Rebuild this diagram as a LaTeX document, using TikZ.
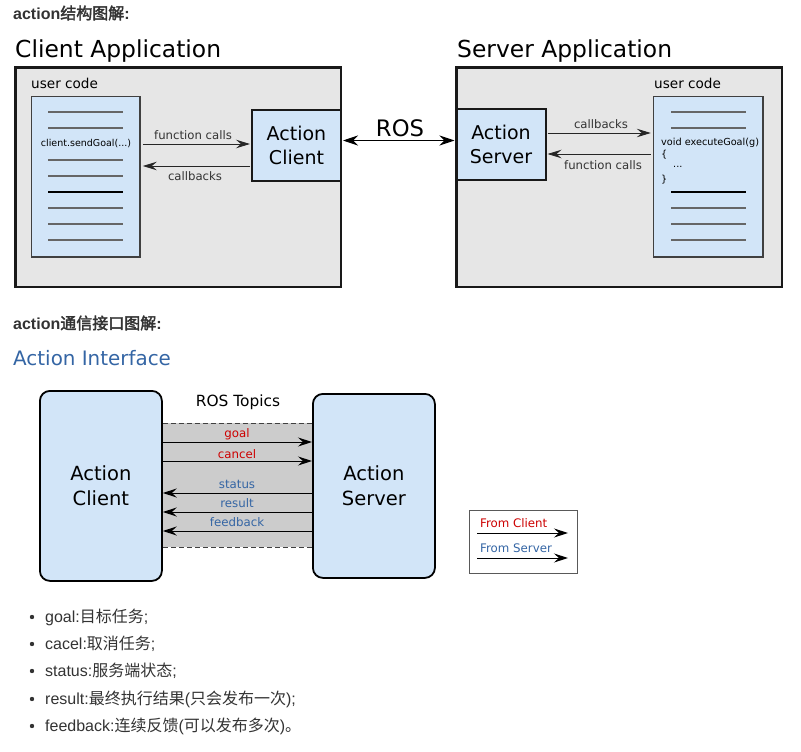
\documentclass[tikz,border=0pt]{standalone}
\usepackage{fontspec}
\setmainfont{DejaVu Sans}
\newfontfamily\lib{Liberation Sans}
\newfontfamily\cjk{Noto Sans CJK SC}
\newfontfamily\cjkb[FakeBold=2.4]{Noto Sans CJK SC}
\usetikzlibrary{arrows.meta}
\definecolor{boxblue}{HTML}{D2E5F8}
\definecolor{appgray}{HTML}{E6E6E6}
\definecolor{bandgray}{HTML}{CCCCCC}
\definecolor{ired}{HTML}{CC0000}
\definecolor{iblue}{HTML}{3465A4}
\definecolor{txt}{HTML}{333333}
\newcommand{\fs}[1]{\fontsize{#1}{#1}\selectfont}
\newcommand{\fsb}[2]{\fontsize{#1}{#2}\selectfont}
\begin{document}
\begin{tikzpicture}[x=1pt,y=-1pt,
  arr/.style={-{Stealth[length=14pt,width=8.5pt,inset=5pt]}, line width=0.9pt, draw=black!85},
  biarr/.style={{Stealth[length=15pt,width=10pt,inset=5pt]}-{Stealth[length=15pt,width=10pt,inset=5pt]}, line width=1.1pt, draw=black},
  iarr/.style={-{Stealth[length=14pt,width=9pt,inset=5pt]}, line width=1pt, draw=black},
  app/.style={draw=black!90, line width=2.6pt, fill=appgray, inner sep=0, anchor=north west},
  codebox/.style={draw=black!75, line width=1.6pt, fill=boxblue, inner sep=0, anchor=north west},
  acbox/.style={draw=black!90, line width=2pt, fill=boxblue, inner sep=0, anchor=north west, align=center, font=\fsb{19}{24}},
  ifbox/.style={draw=black, line width=1.8pt, fill=boxblue, rounded corners=10pt, inner sep=0, anchor=north west, align=center, font=\fsb{19.5}{25}},
  cl/.style={line width=1.1pt, draw=black!60},
  lbl/.style={font=\fs{11.7}, inner sep=0, text=black!80},
  ilbl/.style={font=\fs{11.8}, inner sep=0},
  title/.style={font=\fs{23.4}, inner sep=0, anchor=west},
  head/.style={inner sep=0, anchor=west, text=txt},
  bul/.style={inner sep=0, anchor=west, text=txt}
]
\useasboundingbox (0,0) rectangle (801,752);

% ---------- heading 1
\node[head] (h1) at (13,13) {\fs{16}{\lib\bfseries action}{\cjkb 结构图解}{\lib\bfseries :}};

% ---------- client application
\node[title] (ctitle) at (15,51.5) {Client Application};
\node[app, minimum width=325.4pt, minimum height=219.4pt] (capp) at (14.3,66.3) {};
\node[inner sep=0, anchor=west, font=\fs{13.6}] (cuc) at (31,83.5) {user code};
\node[codebox, minimum width=108.4pt, minimum height=160.4pt] (cucode) at (30.8,95.8) {};
\foreach \yy in {112,128,160,176,208,224,240} \draw[cl] (48,\yy) -- (123,\yy);
\draw[cl, draw=black] (48,192) -- (123,192);
\node[inner sep=0, font=\fs{9.5}] (sendgoal) at (86,144) {client.sendGoal(...)};
\node[acbox, minimum width=89pt, minimum height=71pt] (aclient) at (251,109) {Action\\Client};
\draw[arr, shorten <=2pt, shorten >=1pt] (cucode.east |- 0,144) -- (aclient.west |- 0,144);
\draw[arr, shorten <=1pt, shorten >=2pt] (aclient.west |- 0,166) -- (cucode.east |- 0,166);
\node[lbl] (fc1) at (193,135) {function calls};
\node[lbl] (cb1) at (195,176) {callbacks};

% ---------- server application
\node[title] (stitle) at (457,51.5) {Server Application};
\node[app, minimum width=325.4pt, minimum height=219.4pt] (sapp) at (455.3,66.3) {};
\node[acbox, minimum width=89pt, minimum height=71pt] (aserver) at (455.5,108) {Action\\Server};
\node[inner sep=0, anchor=west, font=\fs{13.6}] (suc) at (654,83.5) {user code};
\node[codebox, minimum width=109.4pt, minimum height=160.4pt] (sucode) at (652.8,95.8) {};
\foreach \yy in {112,128,208,224,240} \draw[cl] (671,\yy) -- (746,\yy);
\draw[cl, draw=black] (671,192) -- (746,192);
\node[inner sep=0, anchor=west, font=\fs{9.7}] (eg) at (661,143) {void executeGoal(g)};
\node[inner sep=0, anchor=west, font=\fs{9.7}] (ob) at (661,155) {\{};
\node[inner sep=0, anchor=west, font=\fs{9.7}] (dots) at (673,167) {...};
\node[inner sep=0, anchor=west, font=\fs{9.7}] (cb) at (661,180) {\}};
\draw[arr, shorten <=1pt, shorten >=2pt] (aserver.east |- 0,133) -- (sucode.west |- 0,133);
\draw[arr, shorten <=2pt, shorten >=1pt] (sucode.west |- 0,154) -- (aserver.east |- 0,154);
\node[lbl] (cb2) at (601,124) {callbacks};
\node[lbl] (fc2) at (603,165) {function calls};

% ---------- ROS
\draw[biarr, shorten <=1pt, shorten >=1pt] (aclient.east |- 0,140.5) -- (aserver.west |- 0,140.5);
\node[inner sep=0, font=\fs{22.7}] (ros) at (400,128.5) {ROS};

% ---------- heading 2
\node[head] (h2) at (13,323) {\fs{16}{\lib\bfseries action}{\cjkb 通信接口图解}{\lib\bfseries :}};
\node[inner sep=0, anchor=west, font=\fs{19.9}, text=iblue] (ai) at (13,358) {Action Interface};

% ---------- interface
\node[ifbox, minimum width=122pt, minimum height=190pt] (iclient) at (39,390) {Action\\Client};
\node[ifbox, minimum width=122pt, minimum height=184pt] (iserver) at (312,393) {Action\\Server};
\fill[bandgray] (iclient.east |- 0,423) rectangle (iserver.west |- 0,547);
\draw[line width=0.9pt, draw=black!75, dash pattern=on 5pt off 3pt] (iclient.east |- 0,423) -- (iserver.west |- 0,423);
\draw[line width=0.9pt, draw=black!75, dash pattern=on 5pt off 3pt] (iclient.east |- 0,547) -- (iserver.west |- 0,547);
\node[inner sep=0, font=\fs{15.4}] (rt) at (238,402) {ROS Topics};
\draw[iarr] (iclient.east |- 0,442) -- (iserver.west |- 0,442);
\draw[iarr] (iclient.east |- 0,461) -- (iserver.west |- 0,461);
\draw[iarr] (iserver.west |- 0,493) -- (iclient.east |- 0,493);
\draw[iarr] (iserver.west |- 0,512) -- (iclient.east |- 0,512);
\draw[iarr] (iserver.west |- 0,531) -- (iclient.east |- 0,531);
\node[ilbl, text=ired] (lg) at (237,434) {goal};
\node[ilbl, text=ired] (lc) at (237,454) {cancel};
\node[ilbl, text=iblue] (ls) at (237,484) {status};
\node[ilbl, text=iblue] (lr) at (237,503) {result};
\node[ilbl, text=iblue] (lf) at (237,522) {feedback};

% ---------- legend
\node[draw=black!65, line width=1.2pt, inner sep=0, anchor=north west, minimum width=108pt, minimum height=63pt] (legend) at (468.5,509.5) {};
\node[ilbl, anchor=west, text=ired] (fcl) at (480,523) {From Client};
\node[ilbl, anchor=west, text=iblue] (fsv) at (480,548) {From Server};
\coordinate (l1a) at (477,533); \coordinate (l1b) at (568,533);
\coordinate (l2a) at (477,558); \coordinate (l2b) at (568,558);
\draw[iarr] (l1a) -- (l1b);
\draw[iarr] (l2a) -- (l2b);

% ---------- bullets
\foreach \yy in {617,644,671,699,726} \fill[txt] (32,\yy) circle (2.2pt);
\node[bul] (b1) at (45,617) {\fs{16}{\lib goal:}{\cjk 目标任务}{\lib ;}};
\node[bul] (b2) at (45,644) {\fs{16}{\lib cacel:}{\cjk 取消任务}{\lib ;}};
\node[bul] (b3) at (45,671) {\fs{16}{\lib status:}{\cjk 服务端状态}{\lib ;}};
\node[bul] (b4) at (45,699) {\fs{16}{\lib result:}{\cjk 最终执行结果}{\lib (}{\cjk 只会发布一次}{\lib );}};
\node[bul] (b5) at (45,726) {\fs{16}{\lib feedback:}{\cjk 连续反馈}{\lib (}{\cjk 可以发布多次}{\lib )}{\cjk 。}};
\end{tikzpicture}
\end{document}
